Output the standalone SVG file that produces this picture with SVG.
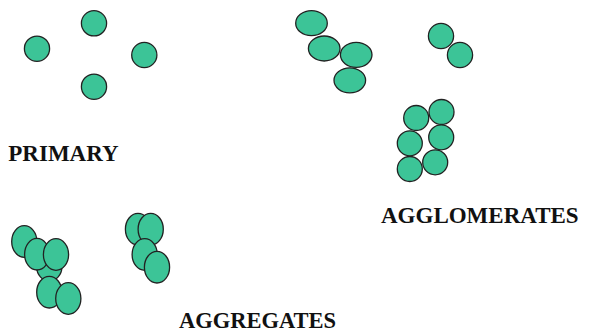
<svg xmlns="http://www.w3.org/2000/svg" width="589" height="333" viewBox="0 0 589 333">
  <style>
    .p { fill: #3cc497; stroke: #222; stroke-width: 1.3; }
    .lbl { font-family: "Liberation Serif", "Times New Roman", serif; font-weight: bold; font-size: 23px; fill: #111; }
  </style>
  <rect width="589" height="333" fill="#fff"/>

  <!-- single particles -->
  <g id="primary">
    <circle class="p" cx="94" cy="23.3" r="12.6"/>
    <circle class="p" cx="37" cy="48.7" r="12.6"/>
    <circle class="p" cx="144.3" cy="55" r="12.6"/>
    <circle class="p" cx="94" cy="86.7" r="12.6"/>
  </g>

  <!-- loosely bound clusters -->
  <g id="agglomerates">
    <ellipse class="p" cx="311.5" cy="23.2" rx="15.8" ry="12.5"/>
    <ellipse class="p" cx="324.2" cy="48.5" rx="15.8" ry="12.5"/>
    <ellipse class="p" cx="356.2" cy="54.8" rx="15.8" ry="12.5"/>
    <ellipse class="p" cx="349.8" cy="80.3" rx="15.8" ry="12.5"/>
    <circle class="p" cx="441" cy="36" r="12.6"/>
    <circle class="p" cx="460" cy="55" r="12.6"/>
    <circle class="p" cx="416.2" cy="118" r="12.5"/>
    <circle class="p" cx="441.5" cy="112" r="12.5"/>
    <circle class="p" cx="409.8" cy="143.3" r="12.5"/>
    <circle class="p" cx="441.2" cy="137.3" r="12.5"/>
    <circle class="p" cx="409.8" cy="169" r="12.5"/>
    <circle class="p" cx="435.2" cy="162.3" r="12.5"/>
  </g>

  <!-- tightly bound clusters -->
  <g id="aggregates">
    <ellipse class="p" cx="24.3" cy="241.5" rx="12.6" ry="15.8"/>
    <ellipse class="p" cx="49.3" cy="267" rx="12.6" ry="14"/>
    <ellipse class="p" cx="37" cy="254.2" rx="12.4" ry="15.8"/>
    <ellipse class="p" cx="56" cy="254.5" rx="12.6" ry="15.8"/>
    <ellipse class="p" cx="49.3" cy="292.2" rx="12.6" ry="15.8"/>
    <ellipse class="p" cx="68.3" cy="298.5" rx="12.6" ry="15.8"/>
    <ellipse class="p" cx="138" cy="229.2" rx="12.6" ry="15.8"/>
    <ellipse class="p" cx="150.7" cy="229.2" rx="12.6" ry="15.8"/>
    <ellipse class="p" cx="144.7" cy="254.5" rx="12.6" ry="15.8"/>
    <ellipse class="p" cx="157" cy="267.2" rx="12.6" ry="15.8"/>
  </g>

  <g id="labels">
    <text class="lbl" x="8.3" y="160.5">PRIMARY</text>
    <text class="lbl" x="381" y="223.3">AGGLOMERATES</text>
    <text class="lbl" x="179" y="328" style="font-size:22.5px">AGGREGATES</text>
  </g>
</svg>
